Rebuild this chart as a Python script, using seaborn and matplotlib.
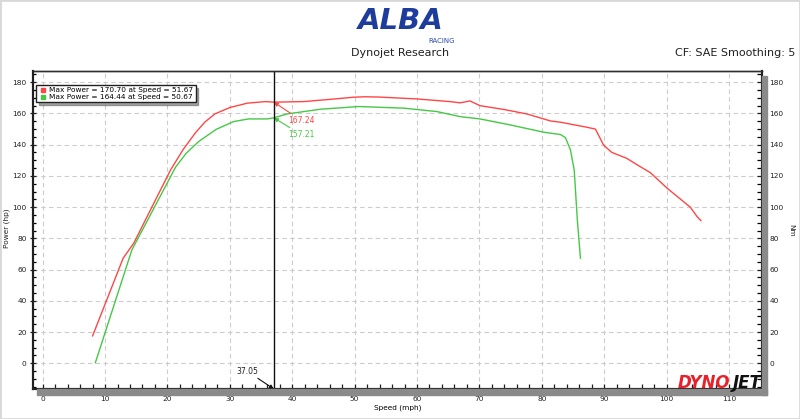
import matplotlib
matplotlib.use('Agg')
import matplotlib.pyplot as plt
import seaborn as sns
import pandas as pd
from matplotlib.lines import Line2D
from matplotlib.patches import Rectangle
from matplotlib.ticker import MultipleLocator

# Run 1 (red)
speed_1 = [8.0, 12.9, 14.6, 20.5, 22.5, 24.5, 26.0, 27.6, 30.0, 32.8, 35.7, 37.05, 41.8, 46.0, 49.8, 51.67,
           54.0, 60.0, 65.3, 66.9, 68.5, 70.1, 74.0, 77.6, 81.4, 83.0, 87.2, 88.6, 89.9,
           91.2, 93.6, 95.5, 97.4, 100.1, 103.8, 104.9, 105.5]
power_1 = [17.5, 67.3, 76.9, 123.8, 136.8, 147.7, 154.5, 159.7, 163.8, 166.6, 167.6, 167.24, 167.6, 169.0, 170.4, 170.70,
           170.5, 169.3, 167.6, 166.8, 168.0, 165.0, 162.5, 159.7, 155.2, 154.4, 151.2, 150.0, 139.8,
           135.1, 131.3, 126.6, 122.1, 112.1, 100.0, 93.9, 91.4]

# Run 2 (green)
speed_2 = [8.45, 14.3, 21.3, 23.0, 25.0, 27.8, 30.6, 33.0, 36.0, 37.05, 39.2, 44.5, 50.67, 57.9, 63.2,
           66.9, 70.1, 74.9, 80.3, 83.0, 83.8, 84.6, 85.2, 85.7, 86.2]
power_2 = [0.4, 72.6, 125.6, 134.5, 142.0, 149.8, 154.8, 156.5, 156.5, 157.21, 159.7, 162.7, 164.44, 163.4, 161.2,
           158.0, 156.5, 152.7, 148.0, 146.5, 144.5, 136.6, 123.8, 91.8, 67.3]

legend_labels = ['Max Power = 170.70 at Speed = 51.67', 'Max Power = 164.44 at Speed = 50.67']
cursor_speed = 37.05
cursor_power = [167.24, 157.21]

RED = '#ff4646'
GREEN = '#46c846'

df = pd.concat([
    pd.DataFrame({'speed': speed_1, 'power': power_1, 'run': 'run1'}),
    pd.DataFrame({'speed': speed_2, 'power': power_2, 'run': 'run2'}),
])

plt.rcParams['font.family'] = ['DejaVu Sans']

fig = plt.figure(figsize=(8, 4.19), dpi=100)
W, H = 800, 419
def fx(px): return px / W
def fy(py): return 1 - py / H

ax = fig.add_axes([fx(33), fy(389), fx(762) - fx(33), fy(71) - fy(389)])

sns.lineplot(data=df, x='speed', y='power', hue='run', palette={'run1': RED, 'run2': GREEN},
             legend=False, ax=ax, lw=1, estimator=None, sort=False)

ax.set_xlim(-1.55, 115.3)
ax.set_ylim(-16.5, 187.2)
ax.xaxis.set_major_locator(MultipleLocator(10))
ax.xaxis.set_minor_locator(MultipleLocator(2))
ax.yaxis.set_major_locator(MultipleLocator(20))
ax.yaxis.set_minor_locator(MultipleLocator(5))
ax.grid(True, which='major', linestyle=(0, (4, 3)), color='#cccccc', lw=0.8)
ax.set_axisbelow(True)

ax.tick_params(axis='x', which='both', direction='in', length=3.6, width=0.9, labelsize=5.3, pad=5, colors='#202020')
ax.tick_params(axis='y', which='major', direction='inout', length=5, width=0.9, labelsize=5.3, pad=2, colors='#202020')
ax.tick_params(axis='y', which='minor', direction='in', length=2.5, width=0.9)
ax.set_xlabel('Speed (mph)', fontsize=5.3, labelpad=2)
ax.set_ylabel('')

ax2 = ax.twinx()
ax2.set_ylim(ax.get_ylim())
ax2.yaxis.set_major_locator(MultipleLocator(20))
ax2.yaxis.set_minor_locator(MultipleLocator(5))
ax2.tick_params(axis='y', which='major', direction='inout', length=7, width=0.9, labelsize=5.3, pad=2, colors='#202020')
ax2.tick_params(axis='y', which='minor', direction='in', length=3.5, width=0.9)
ax2.set_yticks(range(0, 181, 20))

fig.text(fx(7), fy(228), 'Power (hp)', fontsize=5.3, rotation=90, ha='center', va='center', color='#202020')
fig.text(fx(791), fy(230), 'Nm', fontsize=5.3, rotation=270, ha='center', va='center', color='#202020')

for a in (ax, ax2):
    for s in ('left', 'bottom', 'right'):
        a.spines[s].set_linewidth(1.5)
        a.spines[s].set_color('#202020')
    a.spines['top'].set_linewidth(1.0)
    a.spines['top'].set_color('#303030')

# cursor line and readouts
ax.axvline(cursor_speed, color='#101010', lw=1, zorder=5)
ax.annotate(f'{cursor_power[0]:.2f}', xy=(cursor_speed, cursor_power[0]), xytext=(39.4, 155.4),
            fontsize=5.5, color=RED, va='center', ha='left',
            arrowprops=dict(arrowstyle='-|>', color=RED, lw=0.8, mutation_scale=6, shrinkA=0, shrinkB=0))
ax.annotate(f'{cursor_power[1]:.2f}', xy=(cursor_speed, cursor_power[1]), xytext=(39.4, 146.3),
            fontsize=5.5, color=GREEN, va='center', ha='left',
            arrowprops=dict(arrowstyle='-|>', color=GREEN, lw=0.8, mutation_scale=6, shrinkA=0, shrinkB=0))
ax.annotate(f'{cursor_speed:.2f}', xy=(cursor_speed, -16.5), xytext=(34.5, -5.0),
            fontsize=5.5, color='#202020', va='center', ha='right',
            arrowprops=dict(arrowstyle='-|>', color='#101010', lw=0.8, mutation_scale=6, shrinkA=0, shrinkB=0),
            annotation_clip=False)

# legend
handles = [Line2D([], [], marker='s', ls='none', color=RED, markersize=2.5),
           Line2D([], [], marker='s', ls='none', color=GREEN, markersize=2.5)]
leg = ax.legend(handles, legend_labels, loc='upper left', bbox_to_anchor=(fx(36), fy(85)),
                bbox_transform=fig.transFigure, fontsize=5.3, frameon=True, fancybox=False,
                edgecolor='#202020', shadow=True, borderpad=0.3, handletextpad=0.3,
                handlelength=1.2, labelspacing=0.1, borderaxespad=0)
leg.get_frame().set_linewidth(1.0)

# drop shadows of the axis frame
fig.patches.append(Rectangle((fx(37), fy(395)), fx(767) - fx(37), fy(389) - fy(395),
                             transform=fig.transFigure, color='#8a8a8a', zorder=0))
fig.patches.append(Rectangle((fx(762), fy(395)), fx(767) - fx(762), fy(76) - fy(395),
                             transform=fig.transFigure, color='#8a8a8a', zorder=0))
fig.patches.append(Rectangle((0, 0), 1, 1, transform=fig.transFigure, fill=False,
                             edgecolor='#d8d8d8', lw=2, zorder=0))

# header
fig.text(fx(401), fy(21), 'ALBA', fontsize=21, fontweight='bold', fontstyle='italic',
         color='#1e3c9c', ha='center', va='center')
fig.text(fx(455), fy(41), 'RACING', fontsize=5, color='#2a4aa8', ha='right', va='center')
fig.text(0.5, fy(53), 'Dynojet Research', fontsize=8, color='#202020', ha='center', va='center')
fig.text(fx(795), fy(53), 'CF: SAE Smoothing: 5', fontsize=8, color='#202020', ha='right', va='center')

# footer logo
fig.text(fx(678), fy(383), 'DYNO', fontsize=12, fontweight='bold', fontstyle='italic',
         color='#e8202a', ha='left', va='center')
fig.text(fx(762), fy(383), 'JET', fontsize=12, fontweight='bold', fontstyle='italic',
         color='#111111', ha='right', va='center')

fig.savefig('out.png', dpi=100, facecolor='white')
